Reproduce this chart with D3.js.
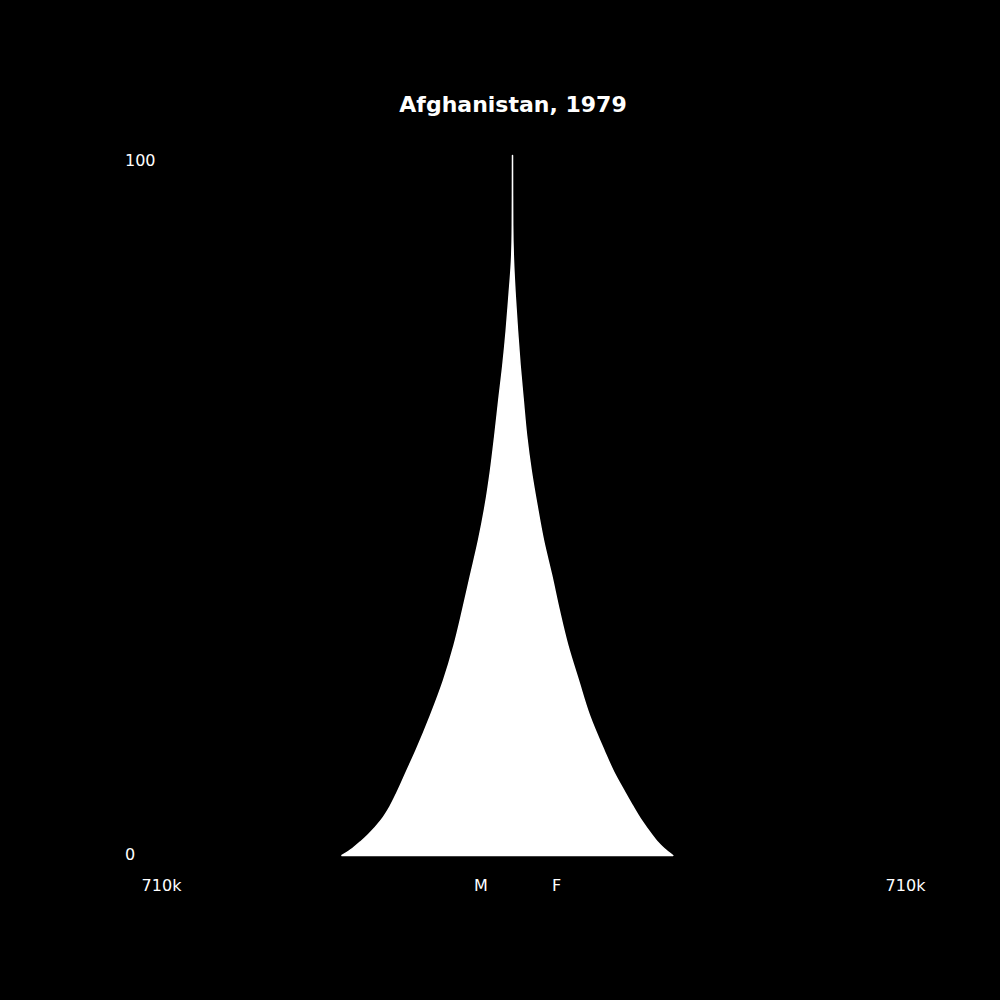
<!DOCTYPE html>
<html>
<head>
<meta charset="utf-8">
<script src="https://cdn.jsdelivr.net/npm/d3@7"></script>
<style>
  html, body { margin: 0; padding: 0; background: #000; }
  text { font-family: "DejaVu Sans", sans-serif; fill: #fff; }
</style>
</head>
<body>
<script>
// ages (denser where the outline bends)
var ages = [0, 1, 2, 3, 5, 7, 9, 12, 15, 20, 25, 30, 35, 40, 45, 50, 55, 60, 65, 70, 75, 80, 85, 90, 100];
var male = [344900, 323600, 306500, 291300, 266000, 247800, 233600, 214400, 195200, 165900, 139600, 118300, 101100, 85000, 68800, 55200, 44500, 35800, 27900, 19600, 12700, 7100, 2000, 400, 0];
var female = [324300, 306500, 292300, 281200, 260900, 243700, 227600, 204300, 185100, 155800, 133500, 111900, 94700, 79300, 62700, 49600, 37800, 28500, 21800, 15400, 10100, 5500, 2000, 400, 0];
var sexLabels = ["M", "F"];
var ageTicks = [0, 100];
var maxPop = 710000;

var width = 1000,
    height = 1000,
    cx = 512.5;

var svg = d3.select("body").append("svg")
    .attr("width", width)
    .attr("height", height)
    .style("background", "#000");

var y = d3.scaleLinear().domain([0, 100]).range([855.5, 155.5]);
var x = d3.scaleLinear().domain([0, maxPop]).range([0, 351]);

var rows = ages.map(function(a, i) { return { age: a, m: male[i], f: female[i] }; });

// males grow to the left of the centre line, females to the right
var pyramid = d3.area()
    .curve(d3.curveMonotoneY)
    .y(function(d) { return y(d.age); })
    .x0(function(d) { return cx - x(d.m); })
    .x1(function(d) { return cx + x(d.f); });

svg.append("path")
    .datum(rows)
    .attr("d", pyramid)
    .attr("fill", "#fff")
    .attr("stroke", "#fff")
    .attr("stroke-width", 1.5)
    .attr("stroke-linejoin", "round");

// title
svg.append("text")
    .attr("x", 513)
    .attr("y", 112)
    .attr("text-anchor", "middle")
    .style("font-size", "22px")
    .style("font-weight", "bold")
    .text("Afghanistan, 1979");

// age labels
svg.selectAll(".age")
    .data(ageTicks)
  .enter().append("text")
    .attr("class", "age")
    .attr("x", 125)
    .attr("y", function(d) { return d === 100 ? y(d) + 10.5 : y(d) + 4; })
    .style("font-size", "16px")
    .text(function(d) { return d; });

// population extent labels
var fmt = d3.format(".2s");
svg.append("text")
    .attr("x", 161.5)
    .attr("y", 891)
    .attr("text-anchor", "middle")
    .style("font-size", "16px")
    .text(fmt(maxPop));
svg.append("text")
    .attr("x", 905.5)
    .attr("y", 891)
    .attr("text-anchor", "middle")
    .style("font-size", "16px")
    .text(fmt(maxPop));

svg.selectAll(".sex")
    .data(sexLabels)
  .enter().append("text")
    .attr("class", "sex")
    .attr("x", function(d, i) { return i === 0 ? 481 : 556.5; })
    .attr("y", 891)
    .attr("text-anchor", "middle")
    .style("font-size", "16px")
    .text(function(d) { return d; });
</script>
</body>
</html>
